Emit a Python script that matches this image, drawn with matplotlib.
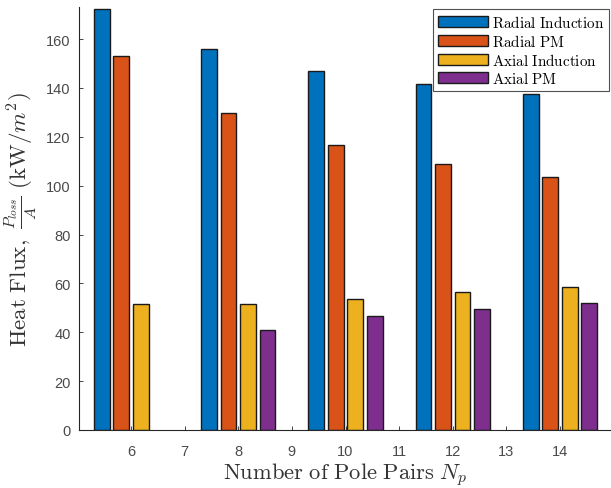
import numpy as np
import matplotlib
matplotlib.use("Agg")
import matplotlib.pyplot as plt

pole_pairs = [6, 8, 10, 12, 14]
radial_induction = [172.5, 156.0, 147.0, 141.5, 137.5]
radial_pm = [153.0, 129.8, 116.8, 108.7, 103.7]
axial_induction = [51.7, 51.7, 53.7, 56.3, 58.7]
axial_pm = [np.nan, 41.1, 46.6, 49.7, 51.8]
series_names = ["Radial Induction", "Radial PM", "Axial Induction", "Axial PM"]
colors = ["#0072BD", "#D95319", "#EDB120", "#7E2F8E"]

plt.rcParams['mathtext.fontset'] = 'cm'
plt.rcParams['font.family'] = ['Liberation Sans', 'DejaVu Sans']

fig = plt.figure(figsize=(6.11, 4.89), dpi=100)
W, H = 611, 489
left, right, top, bottom = 79, 612, 8.3, 431
ax = fig.add_axes([left / W, 1 - bottom / H, (right - left) / W, (bottom - top) / H])

x = np.array(pole_pairs, dtype=float)
data = [radial_induction, radial_pm, axial_induction, axial_pm]
n = len(data)
group_w = min(0.8, n / (n + 1.5)) * 2
slot = group_w / n
bw = slot * 0.8
for i, (vals, c, name) in enumerate(zip(data, colors, series_names)):
    off = (i - (n - 1) / 2) * slot
    ax.bar(x + off, vals, width=bw, color=c, edgecolor='#1a1a1a', linewidth=1.0, label=name, zorder=2)

ax.set_xlim(5.03, 14.97)
ax.set_ylim(0, 173)
ax.set_xticks(range(6, 15))
ax.set_yticks(range(0, 161, 20))
ax.tick_params(direction='in', length=3, width=0.6, colors='#262626', labelsize=10.5, labelcolor='#4a4a4a')
ax.tick_params(axis='x', pad=10)
ax.tick_params(axis='y', pad=6)
for s in ['top', 'right']:
    ax.spines[s].set_visible(False)
for s in ['left', 'bottom']:
    ax.spines[s].set_color('#262626')
    ax.spines[s].set_linewidth(0.8)

ax.set_xlabel(r'$\mathrm{Number\ of\ Pole\ Pairs}\ N_p$', fontsize=16.2, color='#333333', labelpad=2)
ax.set_ylabel(r'$\mathrm{Heat\ Flux,}\ \frac{P_{loss}}{A}\ \mathrm{(kW}/m^2\mathrm{)}$', fontsize=16.6, color='#333333', labelpad=5)

leg = ax.legend(loc='upper right', bbox_to_anchor=(0.995, 0.995), prop={'size': 10.9},
                frameon=True, fancybox=False, edgecolor='#262626', handlelength=3.3, handleheight=0.72,
                handletextpad=0.3, borderpad=0.3, labelspacing=0.2, borderaxespad=0.0)
for t in leg.get_texts():
    t.set_text(r'$\mathrm{' + t.get_text().replace(' ', r'\ ') + '}$')
leg.get_frame().set_linewidth(0.8)

fig.savefig('out.png', dpi=100)
